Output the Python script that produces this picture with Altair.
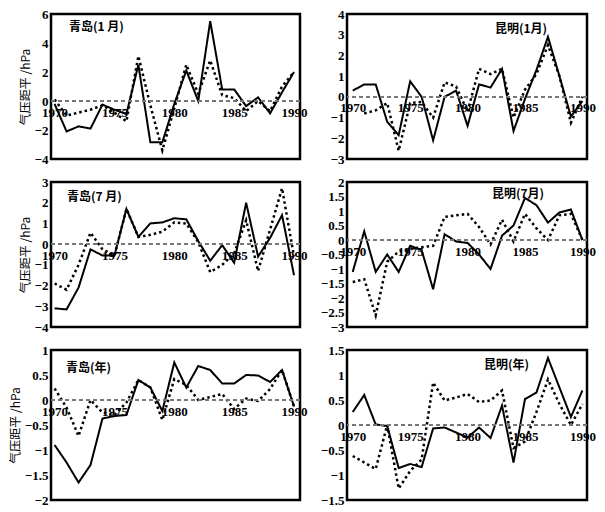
import altair as alt
import pandas as pd

years = list(range(1970, 1991))

qd_jan_solid = [-0.2, -2.1, -1.75, -1.9, -0.25, -0.6, -0.9, 2.5, -2.85, -2.85, -0.2, 2.1, 0.0, 5.5, 0.8, 0.8, -0.35, 0.25, -0.85, 0.6, 2.0]
qd_jan_dot = [0.1, -1.0, -0.8, -0.6, -0.3, -0.8, -1.4, 3.1, -0.3, -3.4, -0.5, 2.5, 0.5, 2.8, 0.4, 0.2, -0.7, 0.0, -0.7, 1.0, 2.0]

km_jan_solid = [0.3, 0.6, 0.6, -1.2, -1.85, 0.75, 0.0, -2.1, 0.0, 0.3, -1.4, 0.6, 0.45, 1.35, -1.65, -0.1, 1.3, 2.9, 1.0, -0.95, -0.2]
km_jan_dot = [None, -0.8, -0.65, -0.3, -2.6, -0.3, -0.25, -1.0, 0.7, 0.5, -0.7, 1.35, 1.1, 1.35, -1.0, 0.35, 1.1, 2.5, 1.0, -1.25, 0.0]

qd_jul_solid = [-3.1, -3.15, -2.1, -0.25, -0.55, -0.55, 1.7, 0.35, 1.0, 1.05, 1.25, 1.2, 0.15, -0.8, -0.05, -0.9, 2.0, -0.6, 0.3, 1.4, -1.5]
qd_jul_dot = [-1.9, -2.2, -1.0, 0.55, -0.25, -0.55, 1.7, 0.35, 0.45, 0.6, 1.05, 1.0, 0.1, -1.35, -1.0, -0.45, 1.15, -1.3, 0.7, 2.7, -0.6]

km_jul_solid = [-1.1, 0.3, -1.1, -0.5, -1.1, -0.2, -0.35, -1.7, 0.2, -0.05, -0.1, -0.5, -1.0, 0.15, 0.5, 1.45, 1.2, 0.6, 0.95, 1.05, 0.0]
km_jul_dot = [-1.45, -1.35, -2.6, -0.75, -0.4, -0.3, -0.25, -0.2, 0.8, 0.85, 0.9, 0.45, -0.15, 0.7, -0.05, 0.9, 0.4, 0.0, 0.85, 0.9, 0.0]

qd_yr_solid = [-0.9, -1.25, -1.65, -1.3, -0.37, -0.32, -0.3, 0.4, 0.25, -0.22, 0.75, 0.25, 0.68, 0.6, 0.33, 0.33, 0.5, 0.49, 0.36, 0.6, -0.13]
qd_yr_dot = [0.23, -0.15, -0.72, 0.0, -0.25, -0.3, -0.05, 0.4, 0.25, -0.4, 0.42, 0.3, 0.0, 0.06, 0.12, -0.18, 0.03, -0.02, 0.22, 0.6, -0.13]

km_yr_solid = [0.26, 0.6, 0.01, -0.02, -0.86, -0.78, -0.84, -0.07, -0.05, -0.15, -0.25, -0.05, -0.26, 0.39, -0.75, 0.52, 0.65, 1.34, 0.75, 0.16, 0.69]
km_yr_dot = [-0.62, -0.75, -0.88, 0.0, -1.27, -0.92, -0.69, 0.85, 0.49, 0.55, 0.62, 0.46, 0.49, 0.69, -0.46, -0.33, 0.26, 0.91, 0.42, 0.0, 0.42]

year_ticks = [1970, 1975, 1980, 1985, 1990]
y_title = "气压距平 /hPa"

SERIF = "Liberation Serif"
CJK = "Noto Sans CJK SC"


def panel(solid, dotted, ymin, ymax, yvals, title, tx, ty, w, h, xdom, show_title):
    rows = []
    for yr, s, d in zip(years, solid, dotted):
        rows.append({"year": yr, "value": s, "series": "solid"})
        rows.append({"year": yr, "value": d, "series": "dotted"})
    df = pd.DataFrame(rows)
    xoff = -(0 - ymin) / (ymax - ymin) * h
    xscale = alt.Scale(domain=xdom, nice=False, zero=False)
    xaxis = alt.Axis(values=year_ticks, format="d", offset=xoff, domain=False,
                     ticks=False, grid=False, labelFont=SERIF, labelFontSize=13,
                     labelFontWeight="bold", labelPadding=5, labelColor="black",
                     labelFlush=False, labelOverlap=False, title=None)
    yaxis_kwargs = dict(values=yvals, format=".1~f", tickCount=len(yvals), domain=False,
                        ticks=False, grid=False, labelFont=SERIF, labelFontSize=13,
                        labelFontWeight="bold", labelColor="black", labelPadding=3,
                        labelOverlap=False, labelFlush=False)
    if show_title:
        yaxis_kwargs.update(title=y_title, titleFont=CJK, titleFontSize=12,
                            titleFontWeight="normal", titleColor="black", titlePadding=2)
    else:
        yaxis_kwargs.update(title=None)
    yscale = alt.Scale(domain=[ymin, ymax], nice=False, zero=False)
    yaxis = alt.Axis(**yaxis_kwargs)
    base = alt.Chart(df)
    lines = base.mark_line(color="black").encode(
        x=alt.X("year:Q", scale=xscale, axis=xaxis),
        y=alt.Y("value:Q", scale=yscale, axis=yaxis),
        strokeDash=alt.StrokeDash("series:N",
                                  scale=alt.Scale(domain=["solid", "dotted"], range=[[1, 0], [2.5, 3]]),
                                  legend=None),
        strokeWidth=alt.StrokeWidth("series:N",
                                    scale=alt.Scale(domain=["solid", "dotted"], range=[2.0, 2.5]),
                                    legend=None),
        order="year:Q",
    )
    zero = base.mark_rule(color="#777", strokeWidth=0.8, strokeDash=[4, 3]).encode(
        y=alt.YDatum(0, scale=yscale, axis=yaxis)
    )
    ttl = alt.Chart(pd.DataFrame({"t": [title]})).mark_text(
        font=CJK, fontSize=12, fontWeight="bold", align="left", baseline="middle", color="black"
    ).encode(text="t:N", x=alt.value(tx), y=alt.value(ty))
    return alt.layer(lines, zero, ttl).properties(width=w, height=h)


LX = [1969.7, 1990.5]
RX = [1969.5, 1990.4]

p1 = panel(qd_jan_solid, qd_jan_dot, -4, 6, [-4, -2, 0, 2, 4, 6], "青岛(1 月)", 18, 13, 249, 145, LX, True)
p2 = panel(km_jan_solid, km_jan_dot, -3, 4, [-3, -2, -1, 0, 1, 2, 3, 4], "昆明(1月)", 148, 15, 240, 145, RX, False)
p3 = panel(qd_jul_solid, qd_jul_dot, -4, 3, [-4, -3, -2, -1, 0, 1, 2, 3], "青岛(7 月)", 16, 15, 249, 145, LX, True)
p4 = panel(km_jul_solid, km_jul_dot, -3, 2, [-3, -2.5, -2, -1.5, -1, -0.5, 0, 0.5, 1, 1.5, 2], "昆明(7月)", 145, 12, 240, 145, RX, False)
p5 = panel(qd_yr_solid, qd_yr_dot, -2, 1, [-2, -1.5, -1, -0.5, 0, 0.5, 1], "青岛(年)", 15, 18, 249, 150, LX, True)
p6 = panel(km_yr_solid, km_yr_dot, -1.5, 1.5, [-1.5, -1, -0.5, 0, 0.5, 1, 1.5], "昆明(年)", 137, 15, 240, 150, RX, False)

chart = alt.concat(p1, p2, p3, p4, p5, p6, columns=2,
                   spacing={"row": 23, "column": 47}, bounds="flush").properties(
    padding={"left": 0, "top": -2, "right": 0, "bottom": 0}, background="white"
).configure_view(stroke="black", strokeWidth=2.5)

chart.save("out.html", embed_options={"renderer": "svg", "actions": False})
